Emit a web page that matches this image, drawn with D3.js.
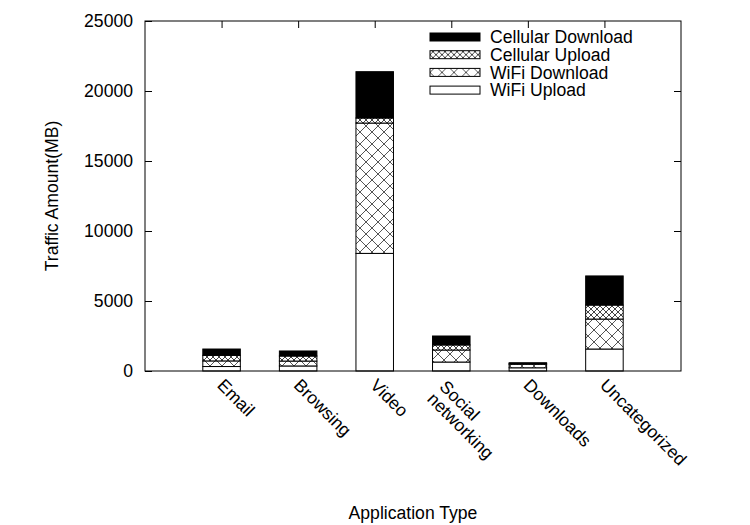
<!DOCTYPE html>
<html>
<head>
<meta charset="utf-8">
<script src="https://cdn.jsdelivr.net/npm/d3@7"></script>
<style>
  body { margin: 0; background: #fff; }
  svg { display: block; font-family: "Liberation Sans", Arial, sans-serif; }
</style>
</head>
<body>
<svg id="chart" width="750" height="525"></svg>
<script>
// data (MB)
const categories = ["Email", "Browsing", "Video", "Social\nnetworking", "Downloads", "Uncategorized"];
const wifiUpload = [320, 360, 8400, 640, 230, 1570];
const wifiDownload = [400, 350, 9310, 860, 250, 2140];
const cellularUpload = [400, 360, 360, 360, 40, 1000];
const cellularDownload = [450, 360, 3310, 640, 70, 2080];
const seriesNames = ["WiFi Upload", "WiFi Download", "Cellular Upload", "Cellular Download"];
const yTicks = [0, 5000, 10000, 15000, 20000, 25000];

const width = 750, height = 525;
const margin = { top: 21, right: 69, bottom: 154, left: 145 };
const fontSize = 17.6;

const svg = d3.select("#chart");

// hatch patterns
const defs = svg.append("defs");
function crossHatch(id, size, color) {
  const p = defs.append("pattern")
    .attr("id", id)
    .attr("patternUnits", "userSpaceOnUse")
    .attr("width", size)
    .attr("height", size);
  p.append("rect").attr("width", size).attr("height", size).attr("fill", "#fff");
  p.append("path")
    .attr("d", `M0,0L${size},${size}M0,${size}L${size},0`)
    .attr("stroke", color)
    .attr("stroke-width", 1)
    .attr("fill", "none");
}
crossHatch("hatchWide", 12, "#555");
crossHatch("hatchFine", 6, "#444");

const fills = {
  "WiFi Upload": "#fff",
  "WiFi Download": "url(#hatchWide)",
  "Cellular Upload": "url(#hatchFine)",
  "Cellular Download": "#000",
};

const table = categories.map((c, i) => ({
  category: c,
  "WiFi Upload": wifiUpload[i],
  "WiFi Download": wifiDownload[i],
  "Cellular Upload": cellularUpload[i],
  "Cellular Download": cellularDownload[i],
}));

const x = d3.scaleLinear()
  .domain([0, categories.length + 1])
  .range([margin.left, width - margin.right]);
const y = d3.scaleLinear()
  .domain([0, 25000])
  .range([height - margin.bottom, margin.top]);

const step = x(1) - x(0);
const barW = step * 0.49;

// y axis, left (labels) and right (mirror ticks)
const yAxis = svg.append("g")
  .attr("transform", `translate(${margin.left},0)`)
  .call(d3.axisLeft(y).tickValues(yTicks).tickSize(-7).tickPadding(12).tickFormat(d3.format("d")));
yAxis.select(".domain").remove();
yAxis.selectAll("text").attr("font-size", fontSize).attr("fill", "#000").attr("font-family", null);
yAxis.selectAll("line").attr("stroke", "#000");

const yAxisR = svg.append("g")
  .attr("transform", `translate(${width - margin.right},0)`)
  .call(d3.axisRight(y).tickValues(yTicks.slice(1, -1)).tickSize(-7).tickFormat(""));
yAxisR.select(".domain").remove();
yAxisR.selectAll("line").attr("stroke", "#000");

// x ticks top and bottom
const xPos = categories.map((c, i) => i + 1);
const xAxisB = svg.append("g")
  .attr("transform", `translate(0,${height - margin.bottom})`)
  .call(d3.axisBottom(x).tickValues(xPos).tickSize(-7).tickFormat(""));
xAxisB.select(".domain").remove();
const xAxisT = svg.append("g")
  .attr("transform", `translate(0,${margin.top})`)
  .call(d3.axisTop(x).tickValues(xPos).tickSize(-7).tickFormat(""));
xAxisT.select(".domain").remove();

// stacked bars
const stack = d3.stack().keys(seriesNames);
const layers = stack(table);

svg.append("g")
  .selectAll("g")
  .data(layers)
  .join("g")
  .attr("fill", d => fills[d.key])
  .selectAll("rect")
  .data(d => d)
  .join("rect")
  .attr("x", (d, i) => x(i + 1) - barW / 2)
  .attr("y", d => y(d[1]))
  .attr("width", barW)
  .attr("height", d => y(d[0]) - y(d[1]))
  .attr("stroke", "#000")
  .attr("stroke-width", 1);

// plot border
svg.append("rect")
  .attr("x", margin.left)
  .attr("y", margin.top)
  .attr("width", width - margin.left - margin.right)
  .attr("height", height - margin.top - margin.bottom)
  .attr("fill", "none")
  .attr("stroke", "#000")
  .attr("stroke-width", 1);

// rotated category labels
const lineH = fontSize * 0.98;
const labels = svg.append("g")
  .selectAll("g")
  .data(categories)
  .join("g")
  .attr("transform", (d, i) => {
    const n = d.split("\n").length - 1;
    return `translate(${x(i + 1) - 1 - 7.5 * n},${height - margin.bottom + 11 + 1.5 * n}) rotate(45)`;
  });
labels.append("text")
  .attr("font-size", fontSize)
  .each(function (d) {
    const t = d3.select(this);
    d.split("\n").forEach((ln, k) => {
      t.append("tspan")
        .attr("x", 0)
        .attr("y", k * lineH)
        .attr("dy", "0.35em")
        .text(ln);
    });
  });

// axis titles
svg.append("text")
  .attr("transform", `translate(52,${(margin.top + height - margin.bottom) / 2}) rotate(-90)`)
  .attr("text-anchor", "middle")
  .attr("dy", "0.35em")
  .attr("font-size", fontSize)
  .text("Traffic Amount(MB)");

svg.append("text")
  .attr("x", (margin.left + width - margin.right) / 2)
  .attr("y", 513)
  .attr("text-anchor", "middle")
  .attr("dy", "0.35em")
  .attr("font-size", fontSize)
  .text("Application Type");

// legend
const legendItems = seriesNames.slice().reverse();
const legend = svg.append("g")
  .selectAll("g")
  .data(legendItems)
  .join("g")
  .attr("transform", (d, i) => `translate(430,${37 + i * 17.7})`);
legend.append("rect")
  .attr("x", 0)
  .attr("y", -4)
  .attr("width", 50)
  .attr("height", 8)
  .attr("fill", d => fills[d])
  .attr("stroke", "#000");
legend.append("text")
  .attr("x", 60)
  .attr("dy", "0.35em")
  .attr("font-size", fontSize)
  .text(d => d);
</script>
</body>
</html>
